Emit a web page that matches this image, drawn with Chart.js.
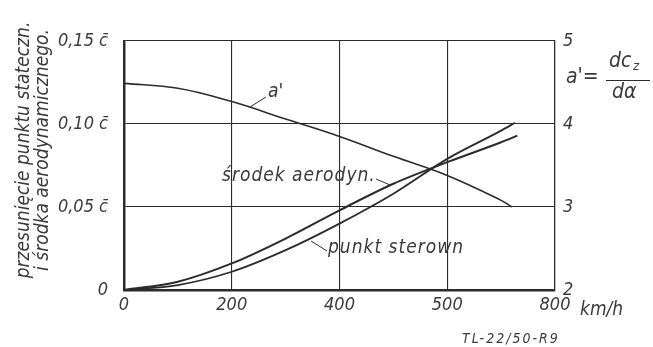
<!DOCTYPE html>
<html>
<head>
<meta charset="utf-8">
<script src="https://cdn.jsdelivr.net/npm/chart.js@4.4.1/dist/chart.umd.min.js"></script>
<style>
  html, body { margin: 0; padding: 0; background: #fff; }
  #wrap { width: 653px; height: 347px; }
</style>
</head>
<body>
<div id="wrap"><canvas id="chart"></canvas></div>
<script>
// values (speed in km/h)
const speedsA = [0, 100, 200, 300, 400, 500, 600, 700, 720];
const aPrime = [4.49, 4.43, 4.27, 4.06, 3.85, 3.61, 3.38, 3.08, 3.0];

const speedsS = [0, 100, 200, 300, 400, 500, 600, 700, 730];
const srodek = [0, 0.005, 0.016, 0.031, 0.048, 0.064, 0.077, 0.089, 0.093];

const speedsP = [0, 100, 200, 300, 400, 500, 600, 700, 726];
const punkt = [0, 0.003, 0.011, 0.024, 0.040, 0.058, 0.079, 0.096, 0.1008];

const xTickLabels = ['0', '200', '400', '500', '800'];
const leftTickLabels = ['0', '0,05 c\u0304', '0,10 c\u0304', '0,15 c\u0304'];
const rightTickLabels = ['2', '3', '4', '5'];

const ink = '#2b2b2b';
const textInk = '#3a3a3a';
const family = '"DejaVu Sans Condensed", "Liberation Sans", sans-serif';
const tickFont = { family: family, size: 18, style: 'italic' };

function pts(xs, ys) {
    return xs.map((x, i) => ({ x: x, y: ys[i] }));
}

const annotations = {
    id: 'annotations',
    afterDraw(chart) {
        const ctx = chart.ctx;
        const xs = chart.scales.x;
        ctx.save();
        ctx.fillStyle = textInk;
        ctx.strokeStyle = ink;
        ctx.textBaseline = 'middle';

        // unit after last x tick
        ctx.font = 'italic 19px ' + family;
        ctx.textAlign = 'left';
        ctx.fillText('km/h', xs.getPixelForValue(800) + 25, 310);

        // figure code
        ctx.font = 'italic 14px ' + family;
        ctx.letterSpacing = '2px';
        ctx.fillText('TL-22/50-R9', 462, 339);
        ctx.letterSpacing = '0px';

        // left axis title, two rotated lines
        ctx.font = 'italic 19px ' + family;
        ctx.textAlign = 'center';
        ctx.save();
        ctx.translate(24, 150);
        ctx.rotate(-Math.PI / 2);
        ctx.fillText('przesunięcie punktu stateczn.', 0, 0);
        ctx.restore();
        ctx.save();
        ctx.translate(43, 150);
        ctx.rotate(-Math.PI / 2);
        ctx.fillText('i środka aerodynamicznego.', 0, 0);
        ctx.restore();

        // right axis title: a' = dcz / dα
        ctx.font = 'italic 21px ' + family;
        ctx.textAlign = 'left';
        ctx.fillText("a'=", 566, 78);
        ctx.fillText('dc', 609, 62);
        ctx.font = 'italic 13px ' + family;
        ctx.fillText('z', 633, 67);
        ctx.font = 'italic 21px ' + family;
        ctx.fillText('d\u03b1', 612, 93);
        ctx.lineWidth = 1;
        ctx.beginPath();
        ctx.moveTo(606, 80.5);
        ctx.lineTo(650, 80.5);
        ctx.stroke();

        // curve labels with leader lines
        ctx.font = 'italic 19px ' + family;
        ctx.fillText("a'", 268, 92);
        ctx.letterSpacing = '1px';
        ctx.fillText('środek aerodyn.', 222, 176);
        ctx.fillText('punkt sterown', 328, 248);
        ctx.letterSpacing = '0px';
        ctx.lineWidth = 1;
        ctx.beginPath();
        ctx.moveTo(250, 107); ctx.lineTo(266, 97);
        ctx.moveTo(376, 179); ctx.lineTo(390, 185);
        ctx.moveTo(311, 241); ctx.lineTo(327, 251);
        ctx.stroke();
        ctx.restore();
    }
};

new Chart(document.getElementById('chart'), {
    type: 'line',
    data: {
        datasets: [
            {
                label: "a'",
                data: pts(speedsA, aPrime),
                yAxisID: 'y2',
                borderColor: ink,
                borderWidth: 1.6,
                pointRadius: 0,
                tension: 0.4
            },
            {
                label: 'środek aerodyn.',
                data: pts(speedsS, srodek),
                yAxisID: 'y',
                borderColor: ink,
                borderWidth: 2,
                pointRadius: 0,
                cubicInterpolationMode: 'monotone'
            },
            {
                label: 'punkt sterown',
                data: pts(speedsP, punkt),
                yAxisID: 'y',
                borderColor: ink,
                borderWidth: 1.8,
                pointRadius: 0,
                cubicInterpolationMode: 'monotone'
            }
        ]
    },
    options: {
        responsive: true,
        maintainAspectRatio: false,
        animation: false,
        layout: { padding: { top: 41, left: 0, right: 0, bottom: 0 } },
        plugins: {
            legend: { display: false },
            tooltip: { enabled: false }
        },
        scales: {
            x: {
                type: 'linear',
                min: 0,
                max: 800,
                afterBuildTicks: axis => {
                    axis.ticks = [0, 200, 400, 600, 800].map(v => ({ value: v }));
                },
                afterFit: axis => { axis.height = 57; },
                ticks: {
                    color: textInk,
                    font: tickFont,
                    padding: 5,
                    maxRotation: 0,
                    callback: (v, i) => xTickLabels[i]
                },
                grid: { color: ink, lineWidth: 1.1, drawTicks: false },
                border: { color: ink, width: 2.5 }
            },
            y: {
                position: 'left',
                min: 0,
                max: 0.15,
                afterBuildTicks: axis => {
                    axis.ticks = [0, 0.05, 0.1, 0.15].map(v => ({ value: v }));
                },
                afterFit: axis => { axis.width = 124; },
                ticks: {
                    color: textInk,
                    font: tickFont,
                    padding: 16,
                    callback: (v, i) => leftTickLabels[i]
                },
                grid: { color: ink, lineWidth: 1.1, drawTicks: false },
                border: { color: ink, width: 2.5 }
            },
            y2: {
                position: 'right',
                min: 2,
                max: 5,
                afterBuildTicks: axis => {
                    axis.ticks = [2, 3, 4, 5].map(v => ({ value: v }));
                },
                afterFit: axis => { axis.width = 98; },
                ticks: {
                    color: textInk,
                    font: tickFont,
                    padding: 8,
                    callback: (v, i) => rightTickLabels[i]
                },
                grid: { display: false, drawTicks: false },
                border: { color: ink, width: 1.2, dash: [4, 2] }
            }
        }
    },
    plugins: [annotations]
});
</script>
</body>
</html>
